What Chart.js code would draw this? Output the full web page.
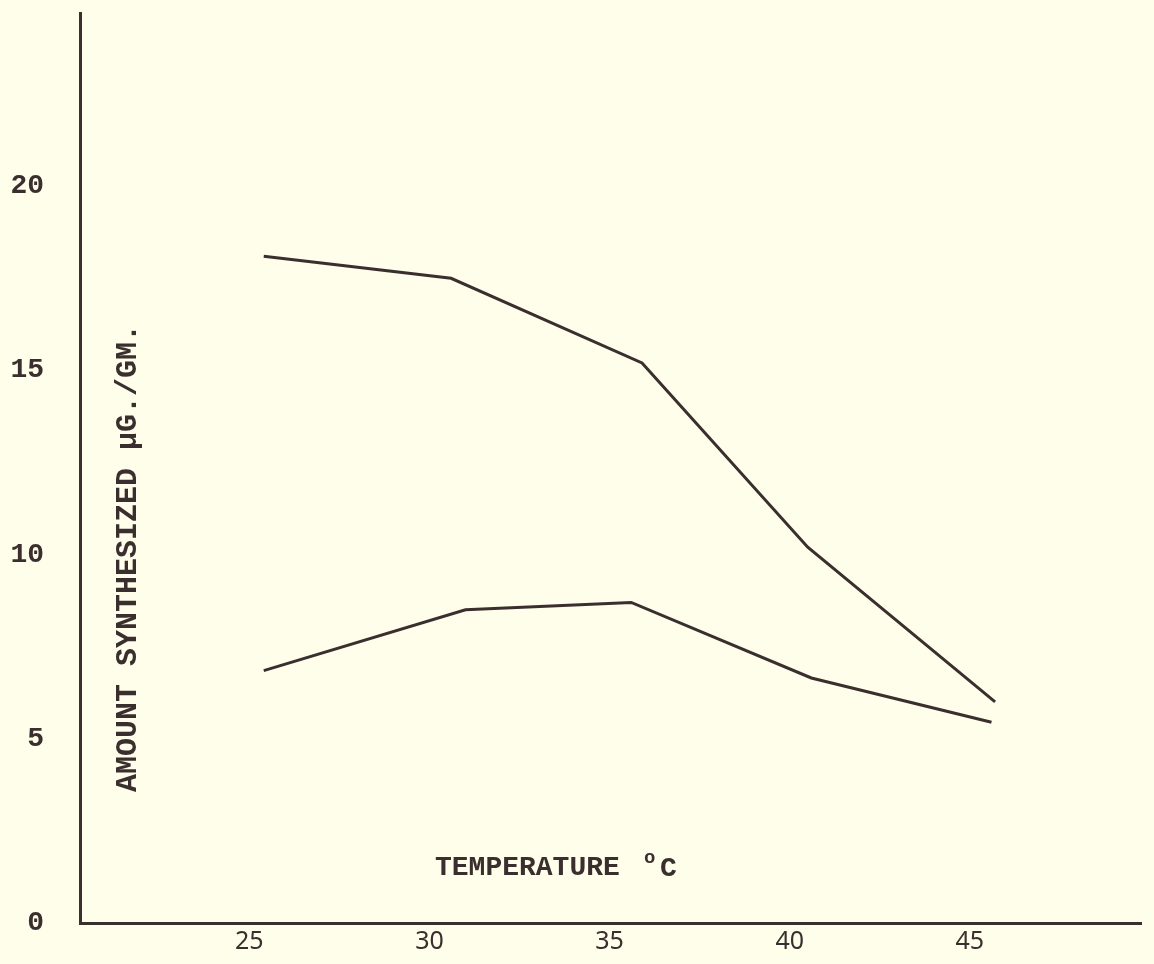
<!DOCTYPE html>
<html>
<head>
<meta charset="utf-8">
<script src="https://cdn.jsdelivr.net/npm/chart.js@4"></script>
<style>
  html, body { margin: 0; padding: 0; background: #fefeea; }
  #wrap { width: 1154px; height: 964px; }
</style>
</head>
<body>
<div id="wrap"><canvas id="tempChart" width="1154" height="964"></canvas></div>
<script>
// values
const xTicks = [25, 30, 35, 40, 45];
const yTicks = [0, 5, 10, 15, 20];

const upperTemps = [25.4, 30.6, 35.9, 40.5, 45.7];
const upperAmounts = [18.1, 17.5, 15.2, 10.2, 6.0];

const lowerTemps = [25.4, 31.0, 35.6, 40.6, 45.6];
const lowerAmounts = [6.85, 8.5, 8.7, 6.65, 5.45];

const ink = '#3a2f2e';
const typeFont = '"Liberation Mono", "DejaVu Sans Mono", monospace';

function toPoints(xs, ys) {
    return xs.map((x, i) => ({ x: x, y: ys[i] }));
}

// no extra padding from the tick labels, the axes start right at the edges
function noPad(axis) {
    axis.paddingTop = 0;
    axis.paddingBottom = 0;
    axis.paddingLeft = 0;
    axis.paddingRight = 0;
}

// titles sit inside the plot area in the original, so draw them by hand
const insideTitles = {
    id: 'insideTitles',
    afterDraw(chart) {
        const ctx = chart.ctx;
        const area = chart.chartArea;
        ctx.save();
        ctx.fillStyle = ink;

        // y title, rotated
        ctx.translate(area.left + 48, area.top + 545);
        ctx.rotate(-Math.PI / 2);
        ctx.font = 'bold 30px ' + typeFont;
        ctx.textAlign = 'center';
        ctx.textBaseline = 'middle';
        ctx.fillText('AMOUNT SYNTHESIZED μG./GM.', 0, 0);
        ctx.setTransform(1, 0, 0, 1, 0, 0);

        // x title
        ctx.textAlign = 'left';
        ctx.textBaseline = 'alphabetic';
        ctx.font = 'bold 28px ' + typeFont;
        ctx.fillText('TEMPERATURE', 435, 875);
        ctx.font = 'bold 19px ' + typeFont;
        ctx.fillText('o', 644, 863);
        ctx.font = 'bold 28px ' + typeFont;
        ctx.fillText('C', 660, 876);
        ctx.restore();
    }
};

const ctx = document.getElementById('tempChart').getContext('2d');
new Chart(ctx, {
    type: 'line',
    data: {
        datasets: [
            {
                label: 'upper',
                data: toPoints(upperTemps, upperAmounts),
                borderColor: ink,
                borderWidth: 3,
                pointRadius: 0,
                tension: 0
            },
            {
                label: 'lower',
                data: toPoints(lowerTemps, lowerAmounts),
                borderColor: ink,
                borderWidth: 3,
                pointRadius: 0,
                tension: 0
            }
        ]
    },
    options: {
        responsive: false,
        animation: false,
        layout: {
            padding: { left: 0, top: 13, right: 13, bottom: 0 }
        },
        plugins: {
            legend: { display: false },
            tooltip: { enabled: false }
        },
        scales: {
            x: {
                type: 'linear',
                min: 20.3,
                max: 49.75,
                afterBuildTicks: axis => { axis.ticks = xTicks.map(v => ({ value: v })); },
                afterFit: axis => { axis.height = 41; noPad(axis); },
                grid: { display: false, drawTicks: false },
                border: { display: true, color: ink, width: 3 },
                ticks: {
                    color: ink,
                    padding: 4,
                    font: { family: '"Noto Sans", "DejaVu Sans", sans-serif', size: 25 }
                }
            },
            y: {
                type: 'linear',
                min: 0,
                max: 24.7,
                afterBuildTicks: axis => { axis.ticks = yTicks.map(v => ({ value: v })); },
                afterFit: axis => { axis.width = 80; noPad(axis); },
                grid: { display: false, drawTicks: false },
                border: { display: true, color: ink, width: 3 },
                ticks: {
                    color: ink,
                    padding: 36,
                    font: { family: typeFont, size: 28, weight: 'bold' }
                }
            }
        }
    },
    plugins: [insideTitles]
});
</script>
</body>
</html>
